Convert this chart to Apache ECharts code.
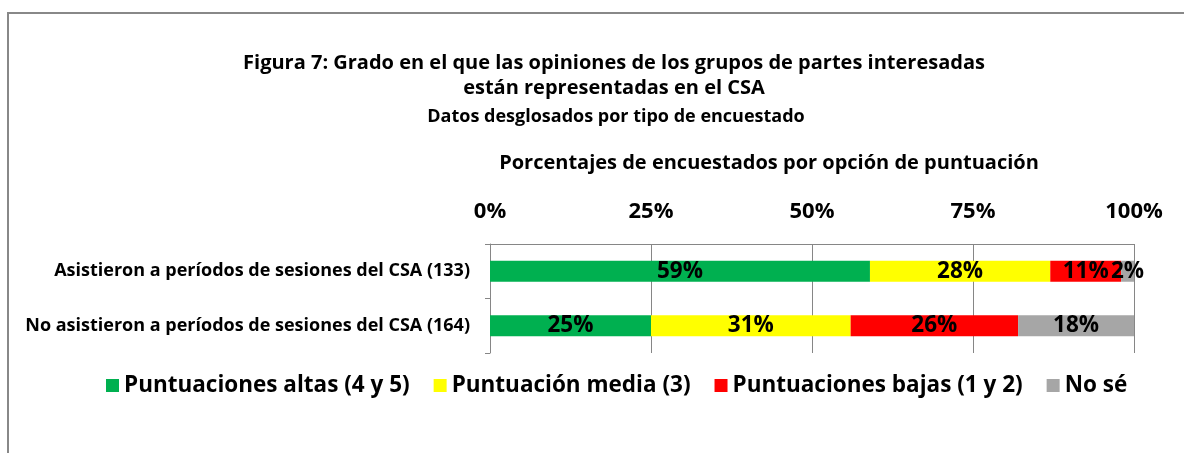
<!DOCTYPE html>
<html lang="es">
<head>
    <meta charset="UTF-8">
    <title>Figura 7</title>
    <script src="https://cdn.jsdelivr.net/npm/echarts@6/dist/echarts.min.js"></script>
    <style>
        html, body {
            margin: 0;
            height: 100%;
            background: #fff;
        }
    </style>
</head>
<body>
<div id="main" style="width: 1184px;height: 453px"></div>
</body>
</html>
<script>
    // datos
    var categorias = ['Asistieron a períodos de sesiones del CSA (133)', 'No asistieron a períodos de sesiones del CSA (164)'];
    var altas = [59, 25];
    var media = [28, 31];
    var bajas = [11, 26];
    var nose = [2, 18];
    var ticks = [0, 25, 50, 75, 100];

    var fuente = 'Open Sans';

    function serie(nombre, datos, color) {
        return {
            name: nombre,
            type: 'bar',
            stack: 'total',
            barWidth: 21,
            data: datos,
            itemStyle: {color: color},
            label: {
                show: true,
                position: 'inside',
                formatter: '{c}%',
                color: '#000',
                fontFamily: fuente,
                fontWeight: 'bold',
                fontSize: 22.5
            }
        };
    }

    var myChart = echarts.init(document.getElementById('main'));
    var option = {
        animation: false,
        title: [
            {
                text: 'Figura 7: Grado en el que las opiniones de los grupos de partes interesadas\nestán representadas en el CSA',
                left: 609, top: 46, textAlign: 'center',
                textStyle: {fontFamily: fuente, fontWeight: 'bold', fontSize: 20, lineHeight: 25, color: '#000'}
            },
            {
                text: 'Datos desglosados por tipo de encuestado',
                left: 611, top: 103, textAlign: 'center',
                textStyle: {fontFamily: fuente, fontWeight: 'bold', fontSize: 18, color: '#000'}
            },
            {
                text: 'Porcentajes de encuestados por opción de puntuación',
                left: 764, top: 148, textAlign: 'center',
                textStyle: {fontFamily: fuente, fontWeight: 'bold', fontSize: 20, color: '#000'}
            }
        ],
        graphic: [{
            type: 'rect',
            shape: {x: 8, y: 13, width: 1250, height: 500},
            style: {fill: 'none', stroke: '#888', lineWidth: 2}
        }],
        legend: {
            top: 369,
            left: 101,
            itemWidth: 13,
            itemHeight: 13,
            itemGap: 24,
            icon: 'rect',
            textStyle: {fontFamily: fuente, fontWeight: 'bold', fontSize: 22.5, color: '#000'}
        },
        grid: {left: 490, right: 50, top: 244, bottom: 100},
        xAxis: {
            type: 'value',
            position: 'top',
            min: ticks[0],
            max: ticks[ticks.length - 1],
            interval: 25,
            axisLine: {show: true, lineStyle: {color: '#868686'}},
            axisTick: {show: false},
            splitLine: {lineStyle: {color: '#868686'}},
            axisLabel: {
                formatter: '{value}%',
                margin: 21,
                color: '#000',
                fontFamily: fuente,
                fontWeight: 'bold',
                fontSize: 22
            }
        },
        yAxis: {
            type: 'category',
            inverse: true,
            data: categorias,
            axisLine: {show: true, lineStyle: {color: '#868686'}},
            axisTick: {show: true, length: 5, lineStyle: {color: '#868686'}},
            axisLabel: {
                margin: 20,
                color: '#000',
                fontFamily: fuente,
                fontWeight: 'bold',
                fontSize: 18
            }
        },
        series: [
            serie('Puntuaciones altas (4 y 5)', altas, '#00b050'),
            serie('Puntuación media (3)', media, '#ffff00'),
            serie('Puntuaciones bajas (1 y 2)', bajas, '#ff0000'),
            serie('No sé', nose, '#a6a6a6')
        ]
    };
    myChart.setOption(option);
</script>
